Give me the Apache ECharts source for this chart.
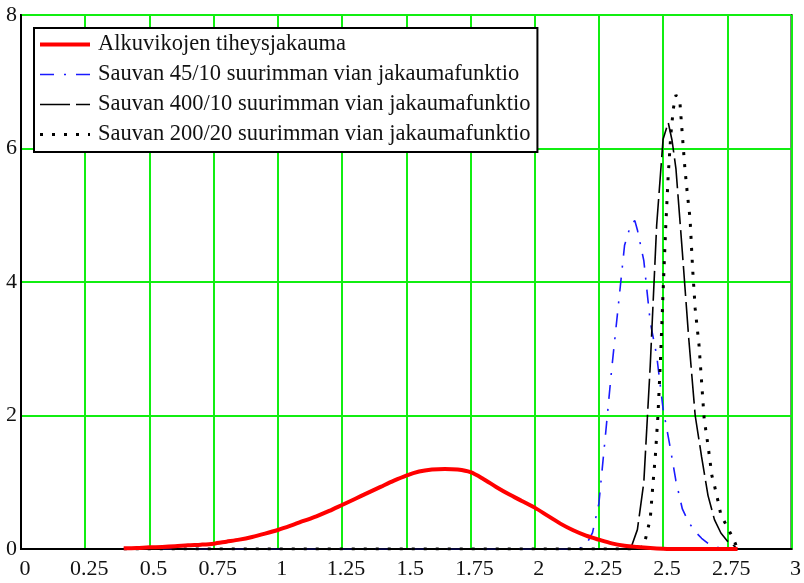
<!DOCTYPE html>
<html>
<head>
<meta charset="utf-8">
<script src="https://cdn.jsdelivr.net/npm/echarts@6/dist/echarts.min.js"></script>
<style>
html,body{margin:0;padding:0;background:#fff;}
#chart{width:804px;height:583px;}
</style>
</head>
<body>
<div id="chart"></div>
<script>
// ---- data ----
const seriesNames = [
  'Alkuvikojen tiheysjakauma',
  'Sauvan 45/10 suurimman vian jakaumafunktio',
  'Sauvan 400/10 suurimman vian jakaumafunktio',
  'Sauvan 200/20 suurimman vian jakaumafunktio'
];
const xTicks = [0, 0.25, 0.5, 0.75, 1, 1.25, 1.5, 1.75, 2, 2.25, 2.5, 2.75, 3];
const yTicks = [0, 2, 4, 6, 8];

const redX = [0.40,0.45,0.50,0.55,0.60,0.65,0.70,0.75,0.80,0.85,0.90,0.95,1.00,1.05,1.10,1.15,1.20,1.25,1.30,1.35,1.40,1.45,1.50,1.55,1.60,1.65,1.70,1.75,1.80,1.85,1.90,1.95,2.00,2.05,2.10,2.15,2.20,2.25,2.30,2.35,2.40,2.45,2.50,2.55,2.60,2.65,2.70,2.75,2.79];
const redY = [0.01,0.015,0.025,0.03,0.04,0.055,0.065,0.08,0.11,0.14,0.18,0.23,0.285,0.35,0.42,0.49,0.57,0.66,0.75,0.84,0.93,1.02,1.10,1.16,1.19,1.20,1.19,1.15,1.05,0.93,0.82,0.72,0.62,0.50,0.38,0.28,0.20,0.14,0.085,0.05,0.03,0.015,0.005,0,0,0,0,0,0];

const blueX = [0.40,2.15,2.175,2.20,2.225,2.25,2.275,2.30,2.325,2.35,2.375,2.39,2.40,2.425,2.45,2.475,2.50,2.525,2.55,2.575,2.60,2.625,2.65,2.675,2.70,2.725,2.75];
const blueY = [0,0,0.01,0.06,0.24,0.68,1.68,2.70,3.62,4.55,4.87,4.92,4.78,4.32,3.40,2.90,2.10,1.58,1.02,0.60,0.40,0.26,0.16,0.085,0.04,0.012,0];

const dashX = [0.40,2.35,2.375,2.40,2.425,2.45,2.475,2.50,2.52,2.535,2.55,2.575,2.60,2.625,2.65,2.675,2.70,2.725,2.75,2.775,2.79];
const dashY = [0,0,0.02,0.29,1.00,2.75,4.85,6.14,6.39,6.12,5.70,4.45,3.15,2.00,1.38,0.80,0.44,0.24,0.12,0.05,0];

const dotX = [0.40,2.40,2.425,2.44,2.45,2.46,2.47,2.48,2.49,2.50,2.51,2.52,2.53,2.54,2.55,2.565,2.575,2.585,2.595,2.605,2.615,2.625,2.64,2.65,2.66,2.675,2.69,2.70,2.715,2.725,2.75,2.775,2.79];
const dotY = [0,0,0.04,0.29,0.45,0.95,1.40,2.00,2.85,3.85,4.80,5.60,6.20,6.60,6.80,6.72,6.20,5.70,5.30,4.95,4.20,3.60,3.05,2.50,1.95,1.55,1.10,0.95,0.70,0.51,0.33,0.14,0];

const pairs = (xs, ys) => xs.map((x, i) => [x, ys[i]]);

const FONT = '"Liberation Serif", "DejaVu Serif", serif';
const RED = '#ff0000', BLUE = '#1a1aff', BLACK = '#000000';
const styles = [
  {color: RED, width: 4, type: 'solid'},
  {color: BLUE, width: 1.6, type: [14, 10, 2, 10]},
  {color: BLACK, width: 1.6, type: [30, 6]},
  {color: BLACK, width: 3, type: [3, 9]}
];
const dataSets = [pairs(redX, redY), pairs(blueX, blueY), pairs(dashX, dashY), pairs(dotX, dotY)];

const chart = echarts.init(document.getElementById('chart'), null, {renderer: 'canvas'});
chart.setOption({
  animation: false,
  backgroundColor: '#fff',
  grid: {left: 21, right: 7, top: 15, bottom: 34, show: true, borderColor: '#000', borderWidth: 2, containLabel: false},
  xAxis: {
    type: 'value', min: xTicks[0], max: xTicks[xTicks.length - 1], interval: 0.25,
    axisLine: {show: true, lineStyle: {color: '#000', width: 2}},
    axisTick: {show: false},
    splitLine: {show: true, lineStyle: {color: '#11ee11', width: 2}},
    axisLabel: {
      color: '#111', fontFamily: FONT, fontSize: 22, margin: 9,
      padding: [0, 0, 0, 8],
      formatter: v => String(+v.toFixed(2))
    }
  },
  yAxis: {
    type: 'value', min: yTicks[0], max: yTicks[yTicks.length - 1], interval: 2,
    axisLine: {show: true, lineStyle: {color: '#000', width: 2}},
    axisTick: {show: false},
    splitLine: {show: true, lineStyle: {color: '#11ee11', width: 2}},
    axisLabel: {color: '#111', fontFamily: FONT, fontSize: 22, margin: 4}
  },
  legend: {
    orient: 'vertical', left: 34, top: 28,
    backgroundColor: '#fff', borderColor: '#000', borderWidth: 2,
    padding: [5, 7, 6, 4], itemGap: 7, itemWidth: 50, itemHeight: 14,
    itemStyle: {opacity: 0},
    textStyle: {fontFamily: FONT, fontSize: 22.5, color: '#111', padding: [0, 0, 0, 3]},
    data: seriesNames.map((n, i) => ({name: n, lineStyle: {color: styles[i].color, width: styles[i].width, type: styles[i].type}}))
  },
  series: seriesNames.map((n, i) => ({
    name: n, type: 'line', data: dataSets[i], showSymbol: false, symbol: 'none',
    smooth: i === 0 ? 0.3 : false,
    lineStyle: {color: styles[i].color, width: styles[i].width, type: styles[i].type},
    itemStyle: {color: styles[i].color},
    z: i === 0 ? 5 : (i === 3 ? 4 : 3)
  }))
});
</script>
</body>
</html>
